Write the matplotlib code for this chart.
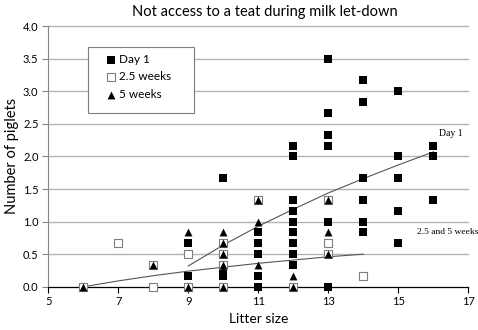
import numpy as np
import matplotlib
matplotlib.use("Agg")
import matplotlib.pyplot as plt
from matplotlib.patches import Rectangle

plt.rcParams["font.family"] = ["Lato", "DejaVu Sans"]

# Day 1 (filled squares)
day1_x = [9, 9, 10, 10, 10,
          11, 11, 11, 11, 11,
          12, 12, 12, 12, 12, 12, 12, 12, 12,
          13, 13, 13, 13, 13, 13,
          14, 14, 14, 14, 14, 14,
          15, 15, 15, 15, 15,
          16, 16, 16]
day1_y = [0.667, 0.167, 1.667, 0.25, 0.167,
          0.833, 0.667, 0.5, 0.167, 0.0,
          2.167, 2.0, 1.333, 1.167, 1.0, 0.833, 0.667, 0.5, 0.333,
          3.5, 2.667, 2.333, 2.167, 1.0, 0.0,
          3.167, 2.833, 1.667, 1.333, 1.0, 0.833,
          3.0, 2.0, 1.667, 1.167, 0.667,
          2.167, 2.0, 1.333]

# 2.5 weeks (open squares)
wk25_x = [6, 7, 8, 8, 9, 9, 10, 10, 10, 10, 11, 12, 13, 13, 13, 14]
wk25_y = [0.0, 0.667, 0.333, 0.0, 0.5, 0.0, 0.667, 0.5, 0.333, 0.0,
          1.333, 0.0, 1.333, 0.667, 0.5, 0.167]

# 5 weeks (triangles)
wk5_x = [6, 8, 9, 9, 10, 10, 10, 10, 10, 10, 11, 11, 11, 12, 12, 13, 13, 13]
wk5_y = [0.0, 0.333, 0.833, 0.0, 0.833, 0.667, 0.5, 0.333, 0.25, 0.0,
         1.333, 1.0, 0.333, 0.167, 0.0, 1.333, 0.833, 0.5]

# trend lines at each litter size
trend_day1_x = [9, 10, 11, 12, 13, 14, 15, 16]
trend_day1_y = [0.32, 0.64, 0.93, 1.19, 1.44, 1.66, 1.87, 2.07]
trend_wk_x = [6, 7, 8, 9, 10, 11, 12, 13, 14]
trend_wk_y = [0.0, 0.09, 0.17, 0.24, 0.30, 0.36, 0.41, 0.46, 0.50]

x_ticks = [5, 7, 9, 11, 13, 15, 17]
y_ticks = [0.0, 0.5, 1.0, 1.5, 2.0, 2.5, 3.0, 3.5, 4.0]

fig = plt.figure(figsize=(4.78, 3.30), dpi=100)
ax = fig.add_axes([0.101, 0.131, 0.879, 0.790])

for y in y_ticks[1:]:
    ax.axhline(y, color="#b3b3b3", linewidth=1.0, zorder=0, clip_on=False)

ax.plot(trend_day1_x, trend_day1_y, color="#555555", linewidth=0.8, zorder=1)
ax.plot(trend_wk_x, trend_wk_y, color="#555555", linewidth=0.8, zorder=1)

ax.scatter(day1_x, day1_y, marker="s", s=28, color="black",
           linewidths=0, zorder=3, label="Day 1", clip_on=False)
ax.scatter(wk25_x, wk25_y, marker="s", s=26, facecolor="white",
           edgecolor="#7f7f7f", linewidths=0.8, zorder=4, label="2.5 weeks",
           clip_on=False)
ax.scatter(wk5_x, wk5_y, marker="^", s=32, color="black",
           linewidths=0, zorder=5, label="5 weeks", clip_on=False)

ax.text(16.17, 2.35, "Day 1", fontsize=7, family="Liberation Serif",
        ha="left", va="center")
ax.text(15.53, 0.84, "2.5 and 5 weeks", fontsize=6.8, family="Liberation Serif",
        ha="left", va="center")

ax.set_xlim(5, 17)
ax.set_ylim(0, 4.0)
ax.set_xticks(x_ticks)
ax.set_yticks(y_ticks)
ax.set_yticklabels([f"{v:.1f}" for v in y_ticks])
ax.tick_params(axis="x", direction="out", length=4, width=0.8, color="black",
               labelsize=8, pad=3)
ax.tick_params(axis="y", direction="out", length=4, width=0.8, color="#868686",
               labelsize=8, pad=3)

for side in ["top", "right"]:
    ax.spines[side].set_visible(False)
ax.spines["left"].set_color("#868686")
ax.spines["bottom"].set_color("black")
ax.spines["bottom"].set_linewidth(0.9)

ax.set_xlabel("Litter size", fontsize=10, labelpad=4)
ax.set_ylabel("Number of piglets", fontsize=10.5, labelpad=3)
fig.text(0.554, 0.965, "Not access to a teat during milk let-down",
         fontsize=10.5, ha="center", va="center")

ax.add_patch(Rectangle((0.095, 0.665), 0.253, 0.253, transform=ax.transAxes,
                       facecolor="white", edgecolor="#7f7f7f", linewidth=0.8,
                       zorder=6))
leg = ax.legend(loc="upper left", bbox_to_anchor=(0.113, 0.93), frameon=False,
                fontsize=8.5, handlelength=1.0, handletextpad=0.2,
                labelspacing=0.55, borderpad=0.3)
leg.set_zorder(7)

fig.savefig("out.png", dpi=100)
